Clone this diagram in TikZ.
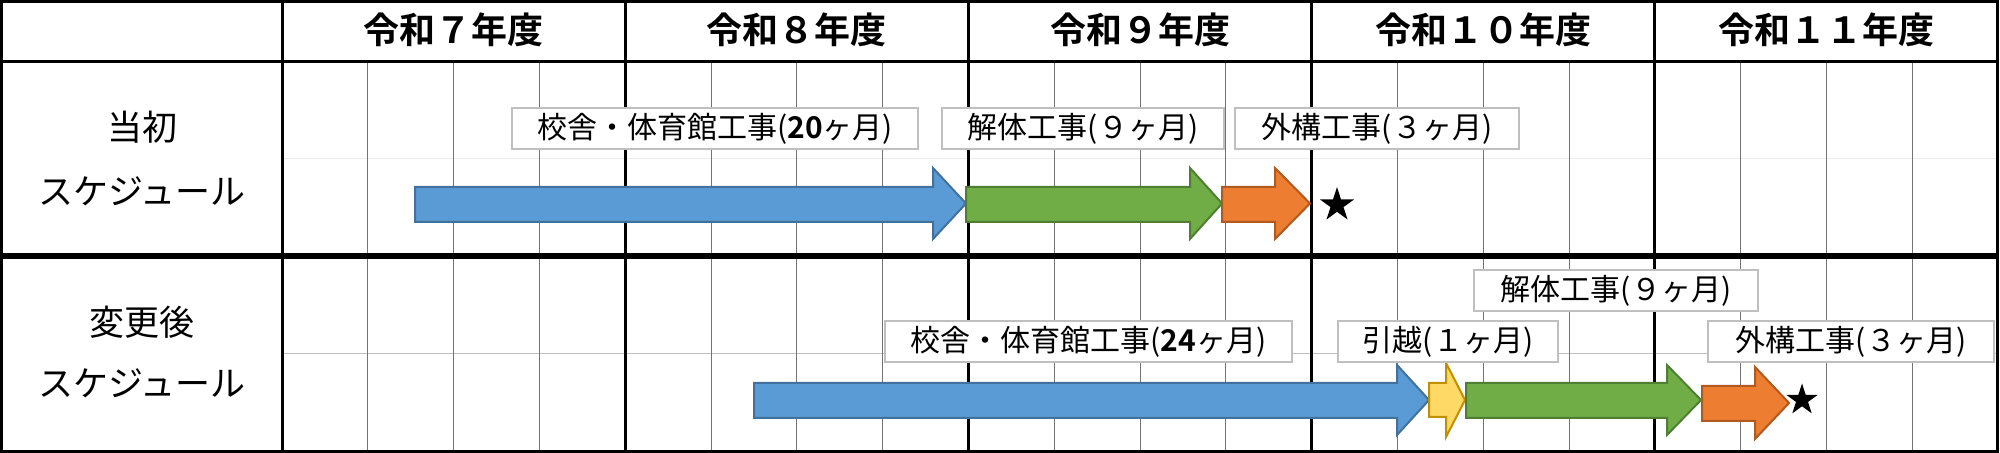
\documentclass[tikz,border=0pt]{standalone}
\usepackage{fontspec}
\setmainfont{Noto Sans CJK JP}[BoldFont={Noto Sans CJK JP Bold}]
\usetikzlibrary{shapes.geometric}
\definecolor{blueF}{HTML}{5B9BD5}
\definecolor{blueD}{HTML}{41719C}
\definecolor{greenF}{HTML}{70AD47}
\definecolor{greenD}{HTML}{507E32}
\definecolor{orangeF}{HTML}{ED7D31}
\definecolor{orangeD}{HTML}{AE5A21}
\definecolor{yellowF}{HTML}{FFD966}
\definecolor{yellowD}{HTML}{BF9000}
\definecolor{boxD}{HTML}{BFBFBF}
\begin{document}
\begin{tikzpicture}[x=0.5pt,y=-0.5pt,
  hdr/.style={font=\bfseries\fontsize{18pt}{20pt}\selectfont, inner sep=0pt},
  rowlbl/.style={font=\fontsize{17.5pt}{20pt}\selectfont, inner sep=0pt},
  lbl/.style={draw=boxD, line width=1pt, fill=white, inner sep=0pt,
    minimum height=20.5pt, font=\fontsize{15pt}{17pt}\selectfont},
  quarterline/.style={draw=black!55, line width=0.5pt},
  yearline/.style={draw=black, line width=1.5pt},
  barrow/.style={line width=1pt, line join=miter},
  starmark/.style={star, star points=5, star point ratio=2.618, fill=black,
    inner sep=0pt}
]
\useasboundingbox (0,0) rectangle (2000,453);
\fill[white] (0,0) rectangle (2000,453);

% faint middle lines
\draw[gray!15, line width=0.5pt] (282,159) -- (1998,159);
\draw[gray!50, line width=0.5pt] (282,354) -- (1998,354);

% quarter lines
\foreach \k in {0,...,4}{
  \foreach \j in {1,2,3}{
    \draw[quarterline] ({282+343.2*\k+85.8*\j},62) -- ({282+343.2*\k+85.8*\j},451);
  }
}
% year lines
\foreach \k in {0,...,4}{
  \draw[yearline] ({282+343.2*\k},2) -- ({282+343.2*\k},451);
}
% header bottom and row separator
\draw[black, line width=1.5pt] (2,61.5) -- (1998,61.5);
\draw[black, line width=3pt] (2,256) -- (1998,256);
% outer border
\draw[black, line width=1.6pt] (1.6,1.6) rectangle (1997.4,451.4);

% headers
\node[hdr] (h7)  at (453.6,30)  {令和７年度};
\node[hdr] (h8)  at (796.8,30)  {令和８年度};
\node[hdr] (h9)  at (1140,30)   {令和９年度};
\node[hdr] (h10) at (1483.2,30) {令和１０年度};
\node[hdr] (h11) at (1826.4,30) {令和１１年度};

% row labels
\node[rowlbl] (r1a) at (142,127) {当初};
\node[rowlbl] (r1b) at (142,191) {スケジュール};
\node[rowlbl] (r2a) at (142,322) {変更後};
\node[rowlbl] (r2b) at (142,383) {スケジュール};

% row 1 arrows
\draw[barrow, fill=blueF, draw=blueD] (415,187) -- (933,187) -- (933,168) -- (966,203.5) -- (933,239) -- (933,222) -- (415,222) -- cycle;
\draw[barrow, fill=greenF, draw=greenD] (966,187) -- (1190,187) -- (1190,168) -- (1222,203.5) -- (1190,239) -- (1190,222) -- (966,222) -- cycle;
\draw[barrow, fill=orangeF, draw=orangeD] (1222,187) -- (1275,187) -- (1275,168) -- (1310,203.5) -- (1275,239) -- (1275,222) -- (1222,222) -- cycle;
\node[starmark, minimum size=17.9pt] (s1) at (1337,205) {};

% row 2 arrows
\draw[barrow, fill=blueF, draw=blueD] (754,383) -- (1397,383) -- (1397,365) -- (1429,400) -- (1397,435) -- (1397,418) -- (754,418) -- cycle;
\draw[barrow, fill=yellowF, draw=yellowD] (1429,383) -- (1446,383) -- (1446,363) -- (1465,400) -- (1446,437) -- (1446,417) -- (1429,417) -- cycle;
\draw[barrow, fill=greenF, draw=greenD] (1466,383) -- (1667,383) -- (1667,365) -- (1701,400) -- (1667,435) -- (1667,418) -- (1466,418) -- cycle;
\draw[barrow, fill=orangeF, draw=orangeD] (1702,386) -- (1755,386) -- (1755,367) -- (1789,403) -- (1755,439) -- (1755,421) -- (1702,421) -- cycle;
\node[starmark, minimum size=16.5pt] (s2) at (1802,400) {};

% labels row 1
\node[lbl, minimum width=203pt] (lA) at (715,128.5) {校舎・体育館工事({\bfseries 20}ヶ月)};
\node[lbl, minimum width=141pt] (lB) at (1083,128.5) {解体工事(９ヶ月)};
\node[lbl, minimum width=142pt] (lC) at (1377,128.5) {外構工事(３ヶ月)};
% labels row 2
\node[lbl, minimum width=203.5pt] (lD) at (1088.5,341.5) {校舎・体育館工事({\bfseries 24}ヶ月)};
\node[lbl, minimum width=110pt] (lE) at (1448,341.5) {引越(１ヶ月)};
\node[lbl, minimum width=142pt] (lF) at (1616,290.5) {解体工事(９ヶ月)};
\node[lbl, minimum width=143pt] (lG) at (1851,341.5) {外構工事(３ヶ月)};
\end{tikzpicture}
\end{document}
